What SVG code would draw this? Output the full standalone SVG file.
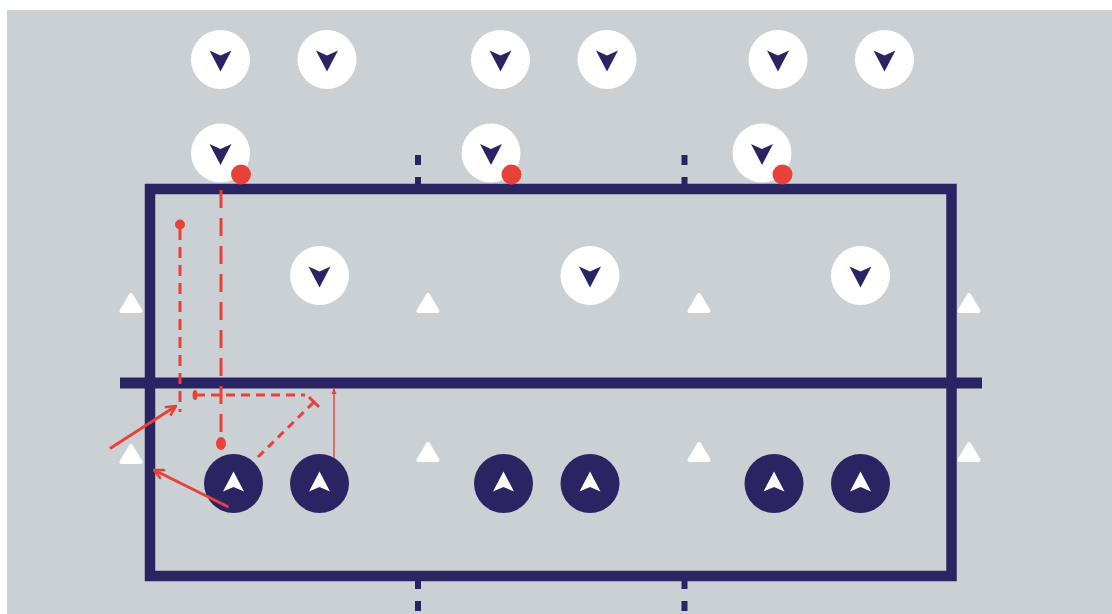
<svg xmlns="http://www.w3.org/2000/svg" width="1112" height="614" viewBox="0 0 1112 614">
<defs>
<style>
.bg{fill:#cbd0d4}
.court{fill:none;stroke:#2b2463;stroke-width:10.5}
.navy{fill:#2b2463}
.wc{fill:#ffffff}
.tick{stroke:#2b2463;stroke-width:6}
.red{fill:#e8413a}
.rl{stroke:#e8413a;fill:none;stroke-width:3}
.cone{fill:#ffffff;stroke:#ffffff;stroke-width:4;stroke-linejoin:round}
</style>
<path id="down" d="M-11,-9 L0,-4 L11,-9 L0,12 Z"/>
<path id="up" d="M-10.5,8 L0,3.5 L10.5,8 L0,-12 Z"/>
<path id="tri" d="M-9.5,8 L9.5,8 L0,-8 Z"/>
<marker id="ah" viewBox="0 0 12 12" refX="11" refY="6" markerWidth="12" markerHeight="12" markerUnits="userSpaceOnUse" orient="auto">
<path d="M1,1 L11,6 L1,11" fill="none" stroke="#e8413a" stroke-width="2.6"/>
</marker>
<marker id="ahs" viewBox="0 0 8 8" refX="7" refY="4" markerWidth="7" markerHeight="7" markerUnits="userSpaceOnUse" orient="auto">
<path d="M0,1 L7,4 L0,7 Z" fill="#e8413a"/>
</marker>
</defs>
<rect x="0" y="0" width="1112" height="614" fill="#ffffff"/>
<rect class="bg" x="7" y="10" width="1105" height="604"/>

<g id="court">
<rect class="court" x="150" y="189" width="801.5" height="387"/>
<line x1="120" y1="383" x2="982" y2="383" stroke="#2b2463" stroke-width="11"/>
<line class="tick" x1="418" y1="155" x2="418" y2="165"/>
<line class="tick" x1="418" y1="177" x2="418" y2="186"/>
<line class="tick" x1="684.5" y1="155" x2="684.5" y2="165"/>
<line class="tick" x1="684.5" y1="177" x2="684.5" y2="186"/>
<line class="tick" x1="418" y1="580" x2="418" y2="589"/>
<line class="tick" x1="418" y1="601" x2="418" y2="611"/>
<line class="tick" x1="684.5" y1="580" x2="684.5" y2="589"/>
<line class="tick" x1="684.5" y1="601" x2="684.5" y2="611"/>
</g>

<g id="cones">
<use href="#tri" class="cone" x="131" y="303"/>
<use href="#tri" class="cone" x="428" y="303"/>
<use href="#tri" class="cone" x="699" y="303"/>
<use href="#tri" class="cone" x="969" y="303"/>
<use href="#tri" class="cone" x="131" y="454"/>
<use href="#tri" class="cone" x="428" y="452"/>
<use href="#tri" class="cone" x="699" y="452"/>
<use href="#tri" class="cone" x="969" y="452"/>
</g>

<g id="opp-top-row">
<g id="o1"><circle class="wc" cx="220.5" cy="59.5" r="29.5"/><use href="#down" class="navy" x="220.5" y="59.5"/></g>
<g id="o2"><circle class="wc" cx="327" cy="59.5" r="29.5"/><use href="#down" class="navy" x="327" y="59.5"/></g>
<g id="o3"><circle class="wc" cx="500.5" cy="59.5" r="29.5"/><use href="#down" class="navy" x="500.5" y="59.5"/></g>
<g id="o4"><circle class="wc" cx="607" cy="59.5" r="29.5"/><use href="#down" class="navy" x="607" y="59.5"/></g>
<g id="o5"><circle class="wc" cx="778" cy="59.5" r="29.5"/><use href="#down" class="navy" x="778" y="59.5"/></g>
<g id="o6"><circle class="wc" cx="884.5" cy="59.5" r="29.5"/><use href="#down" class="navy" x="884.5" y="59.5"/></g>
</g>

<g id="servers">
<g id="s1"><circle class="wc" cx="220.5" cy="153" r="29.5"/><use href="#down" class="navy" x="220.5" y="153"/><circle class="red" cx="241" cy="174.5" r="10"/></g>
<g id="s2"><circle class="wc" cx="491" cy="153" r="29.5"/><use href="#down" class="navy" x="491" y="153"/><circle class="red" cx="511.5" cy="174.5" r="10"/></g>
<g id="s3"><circle class="wc" cx="762" cy="153" r="29.5"/><use href="#down" class="navy" x="762" y="153"/><circle class="red" cx="782.5" cy="174.5" r="10"/></g>
</g>

<g id="opp-mid">
<g id="m1"><circle class="wc" cx="319.5" cy="275.5" r="29.5"/><use href="#down" class="navy" x="319.5" y="275.5"/></g>
<g id="m2"><circle class="wc" cx="590" cy="275.5" r="29.5"/><use href="#down" class="navy" x="590" y="275.5"/></g>
<g id="m3"><circle class="wc" cx="860.5" cy="275.5" r="29.5"/><use href="#down" class="navy" x="860.5" y="275.5"/></g>
</g>

<g id="receivers">
<g id="r1"><circle class="navy" cx="233.5" cy="483.5" r="29.5"/><use href="#up" class="wc" x="233.5" y="483.5"/></g>
<g id="r2"><circle class="navy" cx="319.5" cy="483.5" r="29.5"/><use href="#up" class="wc" x="319.5" y="483.5"/></g>
<g id="r3"><circle class="navy" cx="503.5" cy="483.5" r="29.5"/><use href="#up" class="wc" x="503.5" y="483.5"/></g>
<g id="r4"><circle class="navy" cx="590" cy="483.5" r="29.5"/><use href="#up" class="wc" x="590" y="483.5"/></g>
<g id="r5"><circle class="navy" cx="774" cy="483.5" r="29.5"/><use href="#up" class="wc" x="774" y="483.5"/></g>
<g id="r6"><circle class="navy" cx="860.5" cy="483.5" r="29.5"/><use href="#up" class="wc" x="860.5" y="483.5"/></g>
</g>

<g id="connectors">
<line class="rl" x1="221" y1="190" x2="221" y2="437" stroke-dasharray="18 10"/>
<ellipse class="red" cx="221" cy="443.5" rx="5" ry="6.5"/>
<circle class="red" cx="180" cy="224.5" r="5"/>
<line class="rl" x1="180" y1="229" x2="180" y2="412" stroke-dasharray="11 7"/>
<line class="rl" x1="196" y1="395" x2="305" y2="395" stroke-dasharray="9 6"/>
<ellipse class="red" cx="195" cy="395" rx="2.5" ry="5"/>
<line class="rl" x1="258" y1="457" x2="314" y2="402" stroke-dasharray="8 6"/>
<line class="rl" x1="309" y1="397" x2="319" y2="407"/>
<line x1="334" y1="458" x2="334" y2="388" stroke="#e8413a" stroke-width="1.4" marker-end="url(#ahs)"/>
<line class="rl" x1="110" y1="448.5" x2="176" y2="406" marker-end="url(#ah)"/>
<line class="rl" x1="228.5" y1="507" x2="154" y2="470" marker-end="url(#ah)"/>
</g>
</svg>
